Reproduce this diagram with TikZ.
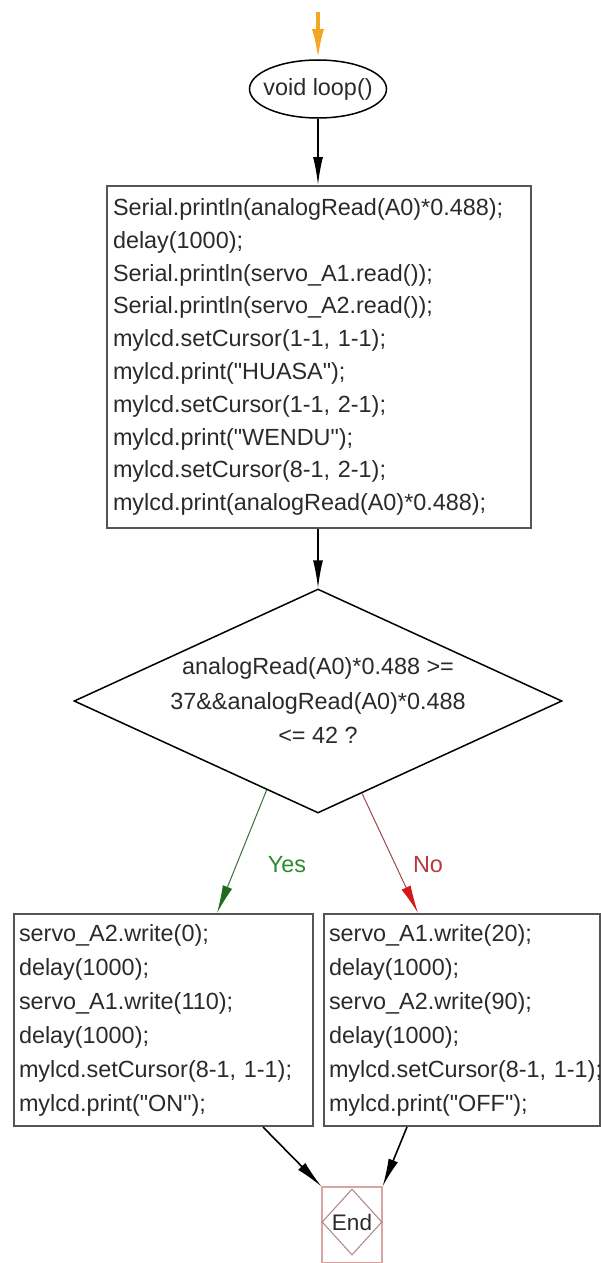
\documentclass[tikz,border=0pt]{standalone}
\usepackage{fontspec}
\setmainfont{Liberation Sans}[Ligatures=TeXOff]
\usetikzlibrary{shapes.geometric,arrows.meta,calc}
\definecolor{txt}{HTML}{2A2A2A}
\definecolor{boxc}{HTML}{555555}
\definecolor{orangec}{HTML}{F2A623}
\definecolor{yesc}{HTML}{2F8A2F}
\definecolor{yesline}{HTML}{3C6E3C}
\definecolor{yeshead}{HTML}{1F6B1F}
\definecolor{noc}{HTML}{B83A3A}
\definecolor{noline}{HTML}{9A4A4A}
\definecolor{nohead}{HTML}{D41818}
\definecolor{endc}{HTML}{D8A4A4}
\begin{document}
\begin{tikzpicture}[x=1pt,y=-1pt,
  every node/.style={font=\fontsize{23.4}{32.8}\selectfont, text=txt},
  codebox/.style={draw=boxc, line width=2pt, anchor=north west, align=left,
    inner ysep=0pt, inner xsep=6pt},
  lowbox/.style={codebox, font=\fontsize{23.4}{34}\selectfont, inner xsep=5pt,
    minimum height=212pt},
  flow/.style={line width=1.6pt, draw=black, -{Latex[length=28pt,width=10pt]}},
  yesflow/.style={line width=1pt, draw=yesline, -{Latex[length=28pt,width=10pt,fill=yeshead,color=yeshead]}},
  noflow/.style={line width=1pt, draw=noline, -{Latex[length=28pt,width=10pt,fill=nohead,color=nohead]}}
]
\useasboundingbox (0,0) rectangle (600,1263);

% start
\node[draw=black, line width=1.5pt, ellipse, minimum width=137pt, minimum height=58pt,
  inner sep=0pt] (start) at (318,89) {\makebox[0pt]{void loop()}};
\coordinate (entry) at (318,12);
\draw[line width=3.5pt, draw=orangec, -{Latex[length=30pt,width=12pt]}] (entry) -- (start.north);

% main box
\node[codebox, minimum width=424pt, minimum height=342pt, text width=412pt] (box1) at (106,185)
{Serial.println(analogRead(A0)*0.488);\\
delay(1000);\\
Serial.println(servo\_A1.read());\\
Serial.println(servo\_A2.read());\\
\mbox{mylcd.setCursor(1-1, 1-1);}\\
mylcd.print("HUASA");\\
\mbox{mylcd.setCursor(1-1, 2-1);}\\
mylcd.print("WENDU");\\
\mbox{mylcd.setCursor(8-1, 2-1);}\\
mylcd.print(analogRead(A0)*0.488);};

% decision
\node[draw=black, line width=1.5pt, diamond, minimum width=488pt, minimum height=224pt,
  inner sep=0pt] (dec) at (318,701) {};
\node[align=center, font=\fontsize{23.4}{34.5}\selectfont] (dect) at (dec.center)
{analogRead(A0)*0.488 >=\\ 37\&\&analogRead(A0)*0.488\\ <= 42 ?};

% branch boxes
\node[lowbox, minimum width=299pt, text width=289pt] (lbox) at (13,913)
{servo\_A2.write(0);\\
delay(1000);\\
servo\_A1.write(110);\\
delay(1000);\\
\mbox{mylcd.setCursor(8-1, 1-1);}\\
mylcd.print("ON");};

\node[lowbox, minimum width=276pt, text width=266pt] (rbox) at (323,913)
{servo\_A1.write(20);\\
delay(1000);\\
servo\_A2.write(90);\\
delay(1000);\\
\mbox{mylcd.setCursor(8-1, 1-1);}\\
mylcd.print("OFF");};

% end
\node[draw=endc, line width=1.2pt, minimum width=60pt, minimum height=76pt, inner sep=0pt]
  (endbox) at (352,1225) {};
\node[draw=endc!80!black, line width=1pt, diamond, minimum width=60pt, minimum height=66pt,
  inner sep=0pt, font=\fontsize{22.5}{26}\selectfont] (endd) at (352,1222) {\makebox[0pt]{End}};

% connectors
\draw[flow] (start.south) -- (start.south |- box1.north);
\draw[flow] (dec.north |- box1.south) -- (dec.north);

\coordinate (ys) at ($(dec.south)!0.21!(dec.west)$);
\coordinate (ye) at ($(lbox.north west)+(204,0)$);
\draw[yesflow] (ys) -- (ye);
\node[text=yesc] (yeslbl) at (287,865) {Yes};

\coordinate (ns) at ($(dec.south)!0.18!(dec.east)$);
\coordinate (ne) at ($(rbox.north west)+(95,0)$);
\draw[noflow] (ns) -- (ne);
\node[text=noc] (nolbl) at (428,865) {No};

\coordinate (ls) at ($(lbox.south west)+(250,0)$);
\coordinate (rs) at ($(rbox.south west)+(84,0)$);
\draw[flow] (ls) -- (endbox.north west);
\draw[flow] (rs) -- (endbox.north east);
\end{tikzpicture}
\end{document}
